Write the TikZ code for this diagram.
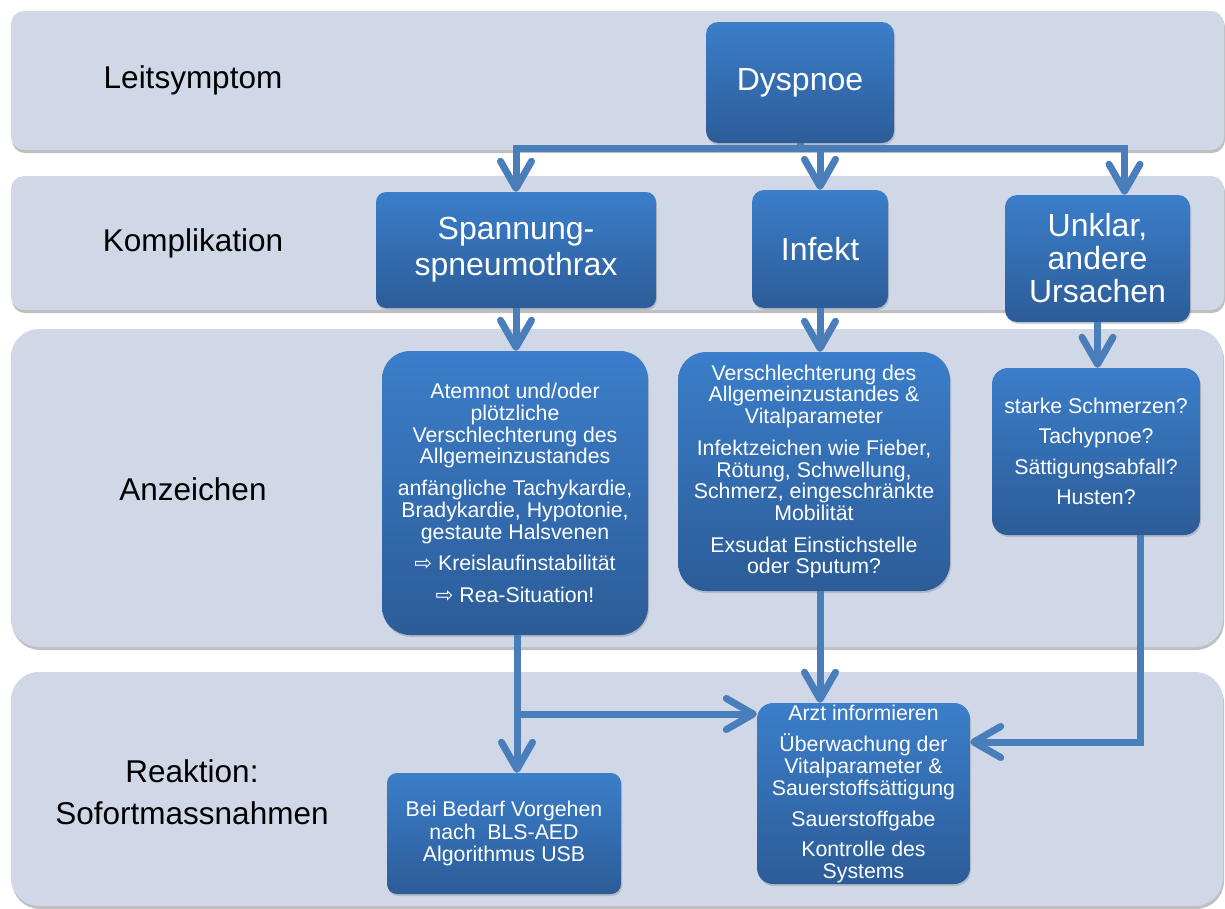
\documentclass[tikz,border=0pt]{standalone}
\usepackage{fontspec}
\setmainfont{Liberation Sans}
\newfontfamily\arrowfont{DejaVu Sans}
\usetikzlibrary{arrows.meta,shadows}

\definecolor{bandfill}{RGB}{208,216,231}
\definecolor{boxtop}{RGB}{59,126,202}
\definecolor{boxbot}{RGB}{44,92,152}
\definecolor{linkblue}{RGB}{74,126,187}
\newcommand{\folgt}{{\arrowfont ⇨}}

\begin{document}
\begin{tikzpicture}[x=1pt,y=-1pt,
    band/.style={fill=bandfill, drop shadow={shadow xshift=1pt, shadow yshift=-3pt, opacity=0.5}},
    bandlabel/.style={font=\fontsize{31.5}{36}\selectfont, align=center},
    box/.style={rounded corners=12pt, top color=boxtop, bottom color=boxbot, text=white, align=center, inner sep=0pt,
        drop shadow={shadow xshift=1pt, shadow yshift=-2pt, opacity=0.35}},
    bigbox/.style={box, font=\fontsize{32}{36}\selectfont},
    smallbox/.style={box, font=\fontsize{21.3}{21.7}\selectfont},
    link/.style={draw=linkblue, line width=7pt},
    arr/.style={link, -{Straight Barb[length=27pt, width=31pt, round]}}
]
    \useasboundingbox (0,0) rectangle (1225,908);

    \path[band, rounded corners=13pt] (11,11) rectangle (1224,150);
    \path[band, rounded corners=13pt] (11,176) rectangle (1224,310);
    \path[band, rounded corners=28pt] (11,329) rectangle (1223,647);
    \path[band, rounded corners=28pt] (11,672) rectangle (1223,906);

    \node[bandlabel] (leit) at (193,80) {Leitsymptom};
    \node[bandlabel] (kompl) at (193,243) {Komplikation};
    \node[bandlabel] (anzeichen) at (193,489) {Anzeichen};
    \node[bandlabel] (reaktion) at (192,792) {Reaktion:\\[6pt]Sofortmassnahmen};

    \node[bigbox, minimum width=188pt, minimum height=121pt] (dysp) at (800,82.5) {Dyspnoe};
    \node[bigbox, minimum width=280pt, minimum height=116pt, rounded corners=10pt] (spann) at (516,250)
        {Spannung-\\spneumothrax};
    \node[bigbox, minimum width=136pt, minimum height=118pt] (infekt) at (820,249) {Infekt};
    \node[bigbox, minimum width=185pt, minimum height=127pt, font=\fontsize{32}{33}\selectfont] (unklar) at (1097.5,258.5)
        {Unklar,\\andere\\Ursachen};

    \node[smallbox, minimum width=266pt, minimum height=284pt, rounded corners=28pt] (anz1) at (515,493)
        {Atemnot und/oder\\plötzliche\\Verschlechterung des\\Allgemeinzustandes\\[10pt]
         anfängliche Tachykardie,\\Bradykardie, Hypotonie,\\gestaute Halsvenen\\[10pt]
         \folgt\ Kreislaufinstabilität\\[10pt]\folgt\ Rea-Situation!};
    \node[smallbox, minimum width=272pt, minimum height=239pt, rounded corners=28pt] (anz2) at (814,471.5)
        {Verschlechterung des\\Allgemeinzustandes \&\\Vitalparameter\\[10pt]
         Infektzeichen wie Fieber,\\Rötung, Schwellung,\\Schmerz, eingeschränkte\\Mobilität\\[10pt]
         Exsudat Einstichstelle\\oder Sputum?};
    \node[smallbox, minimum width=208pt, minimum height=167pt, rounded corners=16pt, font=\fontsize{21.3}{30.5}\selectfont]
        (anz3) at (1096,451.5) {starke Schmerzen?\\Tachypnoe?\\Sättigungsabfall?\\Husten?};

    \node[smallbox, minimum width=234pt, minimum height=121pt, rounded corners=10pt, font=\fontsize{21.3}{22.5}\selectfont]
        (bls) at (504,833.5) {Bei Bedarf Vorgehen\\nach\ \ BLS-AED\\Algorithmus USB};
    \node[smallbox, minimum width=213pt, minimum height=181pt, rounded corners=16pt, font=\fontsize{21.3}{22}\selectfont]
        (arzt) at (863.5,793.5) {Arzt informieren\\[9pt]Überwachung der\\Vitalparameter \&\\Sauerstoffsättigung\\[9pt]
         Sauerstoffgabe\\[8pt]Kontrolle des\\Systems};

    \coordinate (bar) at (800,148);
    \coordinate (split) at (517,714);
    \coordinate (turn) at (1140,742);

    \draw[link] (dysp.south) -- (bar);
    \draw[arr] (bar) -| (spann.north);
    \draw[arr] (bar) -| (infekt.north);
    \draw[arr] (bar) -| ([xshift=27pt]unklar.north);
    \draw[arr] (spann.south) -- (spann.south |- anz1.north);
    \draw[arr] (infekt.south) -- (infekt.south |- anz2.north);
    \draw[arr] (unklar.south) -- (unklar.south |- anz3.north);
    \draw[arr] (anz1.south -| split) -- (split |- bls.north);
    \draw[arr] (split) -- (split -| arzt.west);
    \draw[arr] (anz2.south -| infekt.south) -- (infekt.south |- arzt.north);
    \draw[arr] (anz3.south -| turn) |- (turn -| arzt.east);
\end{tikzpicture}
\end{document}
